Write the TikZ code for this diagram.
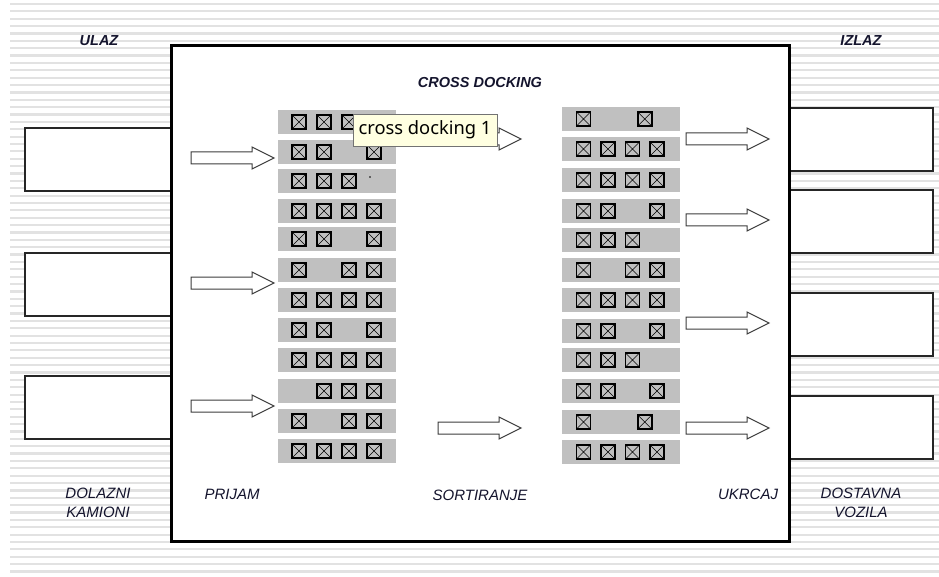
\documentclass[tikz,border=0pt]{standalone}
\usepackage{fontspec}
\setmainfont{Liberation Sans}
\newfontfamily\tipfont{Noto Sans}
\definecolor{rowgray}{RGB}{192,192,192}
\definecolor{stripe}{RGB}{226,226,226}
\definecolor{tipfill}{RGB}{255,255,225}
\definecolor{arrowline}{RGB}{60,60,60}
\definecolor{ink}{RGB}{20,20,45}

\begin{document}
\begin{tikzpicture}[x=1pt,y=-1pt,
    truck/.style={draw=black!85,line width=1.4pt,fill=white},
    row/.style={fill=rowgray,minimum width=118pt,minimum height=24pt,inner sep=0pt},
    crate/.style={draw=black,line width=1.7pt,minimum size=14pt,inner sep=0pt,
      path picture={\draw[line width=0.5pt] (path picture bounding box.south west) -- (path picture bounding box.north east)
        (path picture bounding box.north west) -- (path picture bounding box.south east);}},
    flow/.style={draw=arrowline,line width=1pt,fill=white},
    head/.style={text=ink,font=\fontsize{14.5}{17}\selectfont\bfseries\itshape},
    lbl/.style={text=ink,font=\fontsize{15}{19}\selectfont\itshape,align=center},
    tip/.style={draw=black!55,fill=tipfill,line width=0.8pt,minimum width=144pt,minimum height=32pt,
      inner sep=0pt,font=\fontsize{18.3}{20}\selectfont\tipfont}]
        \useasboundingbox (0,0) rectangle (939,577);
        % striped background
        \foreach \k in {0,...,77}
            \draw[stripe,line width=2.2pt] (10,4+7.37*\k) -- (939,4+7.37*\k);
        % trucks
        \foreach \t in {128,253,376}
            \draw[truck] (25,\t) rectangle ++(146,63);
        \foreach \t in {108,190,293,396}
            \draw[truck] (789,\t) rectangle ++(144,63);
        \node[draw,line width=3pt,fill=white,minimum width=618pt,minimum height=495pt] at (480,293.5) (dock) {};
        % receiving lanes
        \foreach \y/\s [count=\i] in {122/{1,2,3},152/{1,2,4},181/{1,2,3},211/{1,2,3,4},239/{1,2,4},270/{1,3,4},
                300/{1,2,3,4},330/{1,2,4},360/{1,2,3,4},391/{2,3,4},421/{1,3,4},451/{1,2,3,4}}{
            \node[row] at (337,\y) (in\i) {};
            \foreach \k in \s
                \node[crate] at (274+25*\k,\y) (in\i-\k) {};
        }
        \fill (370,177) circle (0.8);
        % loading lanes
        \foreach \y/\s [count=\i] in {119/{1,3.5},149/{1,2,3,4},180/{1,2,3,4},211/{1,2,4},240/{1,2,3},270/{1,3,4},
                300/{1,2,3,4},331/{1,2,4},360/{1,2,3},391/{1,2,4},422/{1,3.5},452/{1,2,3,4}}{
            \node[row] at (621,\y) (out\i) {};
            \foreach \k [count=\j] in \s
                \node[crate] at (559+24.5*\k,\y) (out\i-\j) {};
        }
        % block arrows
        \foreach \x/\y in {191/158,191/283,191/406,438/139,438/428,686/139,686/220,686/323,686/428}
            \draw[flow] (\x,\y-6) -- ++(61,0) -- ++(0,-5) -- (\x+83,\y) -- (\x+61,\y+11) -- ++(0,-5) -- (\x,\y+6) -- cycle;
        \node[head] at (99,41) (ulaz) {ULAZ};
        \node[head] at (861,41) (izlaz) {IZLAZ};
        \node[head] at (480,83) (title) {CROSS DOCKING};
        \node[lbl] at (98,503) (dolazni) {DOLAZNI\\KAMIONI};
        \node[lbl] at (232,494) (prijam) {PRIJAM};
        \node[lbl] at (480,495) (sort) {SORTIRANJE};
        \node[lbl] at (748,494) (ukrcaj) {UKRCAJ};
        \node[lbl] at (861,503) (dostavna) {DOSTAVNA\\VOZILA};
        \node[tip] at (425,130) (tooltip) {cross docking 1};
    \end{tikzpicture}
\end{document}
